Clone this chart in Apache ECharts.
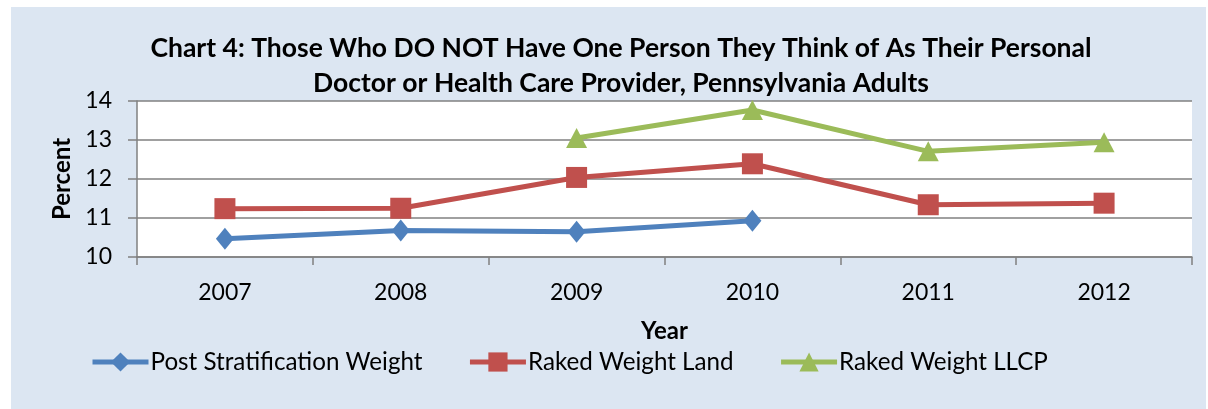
<!DOCTYPE html>
<html>
<head>
<meta charset="utf-8">
<script src="https://cdn.jsdelivr.net/npm/echarts@6/dist/echarts.min.js"></script>
<style>
html,body{margin:0;padding:0;background:#ffffff;}
#frame{position:absolute;left:11px;top:7px;width:1195px;height:402px;background:#dce6f2;}
#chart{position:absolute;left:0;top:0;width:1208px;height:409px;}
</style>
</head>
<body>
<div id="frame"></div>
<div id="chart"></div>
<script>
const titleText = 'Chart 4: Those Who DO NOT Have One Person They Think of As Their Personal\nDoctor or Health Care Provider, Pennsylvania Adults';
const years = ['2007', '2008', '2009', '2010', '2011', '2012'];
const postStratification = [10.47, 10.68, 10.65, 10.93, null, null];
const rakedLand = [11.24, 11.25, 12.04, 12.39, 11.34, 11.38];
const rakedLLCP = [null, null, 13.05, 13.77, 12.71, 12.94];
const yTicks = { min: 10, max: 14, interval: 1 };

const font = 'Lato';
const chart = echarts.init(document.getElementById('chart'), null, { renderer: 'canvas' });
function lineSeries(name, data, color, symbol, size) {
  return {
    name: name, type: 'line', data: data, symbol: symbol, symbolSize: size,
    connectNulls: false,
    lineStyle: { color: color, width: 5 },
    itemStyle: { color: color },
    emphasis: { disabled: true }
  };
}
chart.setOption({
  animation: false,
  backgroundColor: 'transparent',
  title: {
    text: titleText, left: 616, top: 26, textAlign: 'center',
    textStyle: { fontFamily: font, fontWeight: 'bold', fontSize: 26.5, color: '#000', lineHeight: 35 }
  },
  legend: {
    left: 85, top: 345, itemWidth: 56, itemHeight: 24, itemGap: 45,
    lineStyle: { width: 5 },
    textStyle: { fontFamily: font, fontSize: 24.2, color: '#000', padding: [0, 0, 0, -3] },
    data: ['Post Stratification Weight', 'Raked Weight Land', 'Raked Weight LLCP']
  },
  grid: { left: 137, right: 16, top: 101, bottom: 152, show: true, backgroundColor: '#ffffff', borderWidth: 0 },
  xAxis: {
    type: 'category', data: years, boundaryGap: true,
    name: 'Year', nameLocation: 'middle', nameGap: 62,
    nameTextStyle: { fontFamily: font, fontWeight: 'bold', fontSize: 24, color: '#000' },
    axisLine: { lineStyle: { color: '#808080', width: 1.5 } },
    axisTick: { show: true, length: 8, lineStyle: { color: '#808080', width: 1.5 } },
    axisLabel: { fontFamily: font, fontSize: 23, color: '#000', margin: 24 }
  },
  yAxis: {
    type: 'value', min: yTicks.min, max: yTicks.max, interval: yTicks.interval,
    name: 'Percent', nameLocation: 'middle', nameGap: 63, nameRotate: 90,
    nameTextStyle: { fontFamily: font, fontWeight: 'bold', fontSize: 24, color: '#000' },
    axisLine: { show: true, lineStyle: { color: '#808080', width: 1.5 } },
    axisTick: { show: true, length: 9, lineStyle: { color: '#808080', width: 1.5 } },
    axisLabel: { fontFamily: font, fontSize: 23, color: '#000', margin: 25 },
    splitLine: { lineStyle: { color: '#808080', width: 1.5 } }
  },
  series: [
    lineSeries('Post Stratification Weight', postStratification, '#4f81bd', 'diamond', [18, 22]),
    lineSeries('Raked Weight Land', rakedLand, '#c0504d', 'rect', 21),
    lineSeries('Raked Weight LLCP', rakedLLCP, '#9bbb59', 'triangle', [21, 20])
  ]
});
</script>
</body>
</html>
